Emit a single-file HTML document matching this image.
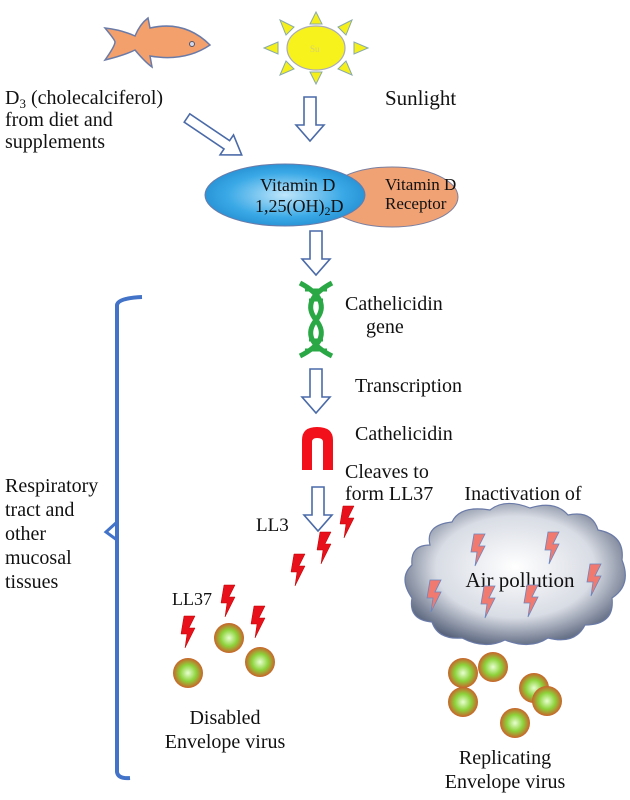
<!DOCTYPE html>
<html><head><meta charset="utf-8"><style>
html,body{margin:0;padding:0;background:#fff;}
svg{display:block;}
text{font-family:"Liberation Serif",serif;fill:#111;}
</style></head><body>
<svg width="630" height="800" viewBox="0 0 630 800">
<defs>
<radialGradient id="blue" cx="0.5" cy="0.5" r="0.6"><stop offset="0" stop-color="#bfe6fb"/><stop offset="0.6" stop-color="#3aa9e6"/><stop offset="1" stop-color="#1e86cc"/></radialGradient>
<radialGradient id="ball" cx="0.5" cy="0.5" r="0.5"><stop offset="0" stop-color="#e8ffd0"/><stop offset="0.55" stop-color="#8cd23a"/><stop offset="1" stop-color="#c9622a"/></radialGradient>
<radialGradient id="cloud" cx="0.5" cy="0.45" r="0.6"><stop offset="0" stop-color="#ffffff"/><stop offset="0.6" stop-color="#d8dce4"/><stop offset="1" stop-color="#4a5670"/></radialGradient>
<g id="arr"><path d="M-6,0 H6 V28 H14 L0,44 L-14,28 H-6 Z" fill="#fff" stroke="#4a6aa8" stroke-width="1.6"/></g>
<g id="arrL"><path d="M-5,0 H5 V48 H12 L0,66 L-12,48 H-5 Z" fill="#fff" stroke="#4a6aa8" stroke-width="1.6"/></g>
<g id="bolt"><path d="M-4,-16 L7,-16 L1,-4 L7,-4 L-3,16 L-1,2 L-7,2 Z" fill="#e8101a" stroke="#b00" stroke-width="0.5"/></g>
<g id="bolt2"><path d="M-4,-16 L7,-16 L1,-4 L7,-4 L-3,16 L-1,2 L-7,2 Z" fill="#f07a70" stroke="#6a86c0" stroke-width="0.8"/></g>
</defs>
<!-- fish -->
<path d="M105,28 Q115,40 115,42 Q115,46 105,60 Q125,55 135,50 Q145,62 152,67 L150,56 Q185,62 210,45 Q185,20 150,28 L148,18 Q140,24 135,36 Q122,30 105,28 Z" fill="#f4a06c" stroke="#6b7ba8" stroke-width="1.5"/>
<circle cx="192" cy="44" r="2.5" fill="#cfd8ee" stroke="#556" stroke-width="1"/>
<!-- sun -->
<g fill="#f5ef1a" stroke="#8aa" stroke-width="1">
<path d="M316,12 L322,24 L310,24 Z"/><path d="M316,84 L322,72 L310,72 Z"/>
<path d="M264,48 L278,42 L278,54 Z"/><path d="M368,48 L354,42 L354,54 Z"/>
<path d="M280,20 L294,27 L286,35 Z"/><path d="M352,20 L338,27 L346,35 Z"/>
<path d="M280,75 L286,61 L294,69 Z"/><path d="M352,75 L346,61 L338,69 Z"/>
</g>
<ellipse cx="316" cy="48" rx="29" ry="22" fill="#f7f21c" stroke="#aab" stroke-width="1.2"/>
<text x="310" y="52" font-size="9" style="fill:#d8d070">Su</text>
<text x="5" y="104" font-size="20">D<tspan font-size="13" dy="4">3</tspan><tspan dy="-4"> (cholecalciferol)</tspan></text>
<text x="5" y="126" font-size="20">from diet and</text>
<text x="5" y="148" font-size="20">supplements</text>
<text x="385" y="105" font-size="21">Sunlight</text>
<use href="#arrL" transform="translate(187,118) rotate(-56)"/>
<use href="#arr" transform="translate(310,97)"/>
<!-- vitamin D -->
<ellipse cx="392" cy="197" rx="66" ry="30" fill="#f0a274" stroke="#7a7fa0" stroke-width="1"/>
<ellipse cx="285" cy="195" rx="80" ry="31" fill="url(#blue)" stroke="#6b7ba8" stroke-width="1"/>
<text x="260" y="191" font-size="18">Vitamin D</text>
<text x="255" y="212" font-size="18">1,25(OH)<tspan font-size="12" dy="3">2</tspan><tspan dy="-3">D</tspan></text>
<text x="385" y="190" font-size="17">Vitamin D</text>
<text x="385" y="209" font-size="17">Receptor</text>
<use href="#arr" transform="translate(316,231)"/>
<!-- bracket -->
<path d="M142,297 Q118,298 117,305 V772 Q118,779 130,778" fill="none" stroke="#4273c8" stroke-width="4"/>
<path d="M117,522 L106,532 L117,540" fill="none" stroke="#4273c8" stroke-width="3"/>
<!-- DNA -->
<g fill="none" stroke="#2aa846" stroke-width="5">
<path d="M300,283 Q332,300 316,320 Q300,340 332,356"/>
<path d="M332,283 Q300,300 316,320 Q332,340 300,356"/>
<path d="M305,290 H327 M309,300 H323 M309,340 H323 M305,350 H327" stroke-width="3"/>
</g>
<text x="345" y="310" font-size="20">Cathelicidin</text>
<text x="366" y="333" font-size="20">gene</text>
<use href="#arr" transform="translate(316,369)"/>
<text x="355" y="392" font-size="20">Transcription</text>
<path d="M302,470 V440 Q302,427 317,427 Q333,427 333,440 V470 H323 V442 Q323,438 317,438 Q312,438 312,442 V470 Z" fill="#f2101a"/>
<text x="355" y="440" font-size="20">Cathelicidin</text>
<text x="345" y="478" font-size="20">Cleaves to</text>
<text x="345" y="500" font-size="20">form LL37</text>
<use href="#arr" transform="translate(318,487)"/>
<text x="256" y="531" font-size="19">LL3</text>
<use href="#bolt" transform="translate(347,522)"/>
<use href="#bolt" transform="translate(324,548)"/>
<use href="#bolt" transform="translate(298,570)"/>
<text x="172" y="605" font-size="18">LL37</text>
<use href="#bolt" transform="translate(228,601)"/>
<use href="#bolt" transform="translate(188,632)"/>
<use href="#bolt" transform="translate(258,622)"/>
<circle cx="188" cy="673" r="15" fill="url(#ball)"/>
<circle cx="229" cy="638" r="15" fill="url(#ball)"/>
<circle cx="260" cy="662" r="15" fill="url(#ball)"/>
<text x="225" y="724" font-size="20" text-anchor="middle">Disabled</text>
<text x="225" y="748" font-size="20" text-anchor="middle">Envelope virus</text>
<text x="5" y="492" font-size="20">Respiratory</text>
<text x="5" y="516" font-size="20">tract and</text>
<text x="5" y="540" font-size="20">other</text>
<text x="5" y="564" font-size="20">mucosal</text>
<text x="5" y="588" font-size="20">tissues</text>
<text x="523" y="500" font-size="20" text-anchor="middle">Inactivation of</text>
<text x="523" y="522" font-size="20" text-anchor="middle">LL37</text>
<!-- cloud -->
<path d="M430,545 Q425,525 452,522 Q460,505 490,510 Q505,498 530,508 Q555,500 568,515 Q592,510 598,530 Q625,535 622,560 Q632,585 612,598 Q615,625 585,625 Q575,645 548,638 Q530,650 505,640 Q485,650 462,638 Q438,640 432,622 Q408,620 412,598 Q398,578 412,565 Q410,545 430,545 Z" fill="url(#cloud)" stroke="#6b7ba8" stroke-width="1.2"/>
<text x="520" y="587" font-size="21" text-anchor="middle">Air pollution</text>
<use href="#bolt2" transform="translate(478,550)"/>
<use href="#bolt2" transform="translate(552,548)"/>
<use href="#bolt2" transform="translate(434,596)"/>
<use href="#bolt2" transform="translate(488,602)"/>
<use href="#bolt2" transform="translate(531,601)"/>
<use href="#bolt2" transform="translate(594,580)"/>
<circle cx="463" cy="673" r="15" fill="url(#ball)"/>
<circle cx="493" cy="667" r="15" fill="url(#ball)"/>
<circle cx="463" cy="702" r="15" fill="url(#ball)"/>
<circle cx="534" cy="688" r="15" fill="url(#ball)"/>
<circle cx="547" cy="701" r="15" fill="url(#ball)"/>
<circle cx="515" cy="723" r="15" fill="url(#ball)"/>
<text x="505" y="764" font-size="20" text-anchor="middle">Replicating</text>
<text x="505" y="788" font-size="20" text-anchor="middle">Envelope virus</text>
</svg>
</body></html>
